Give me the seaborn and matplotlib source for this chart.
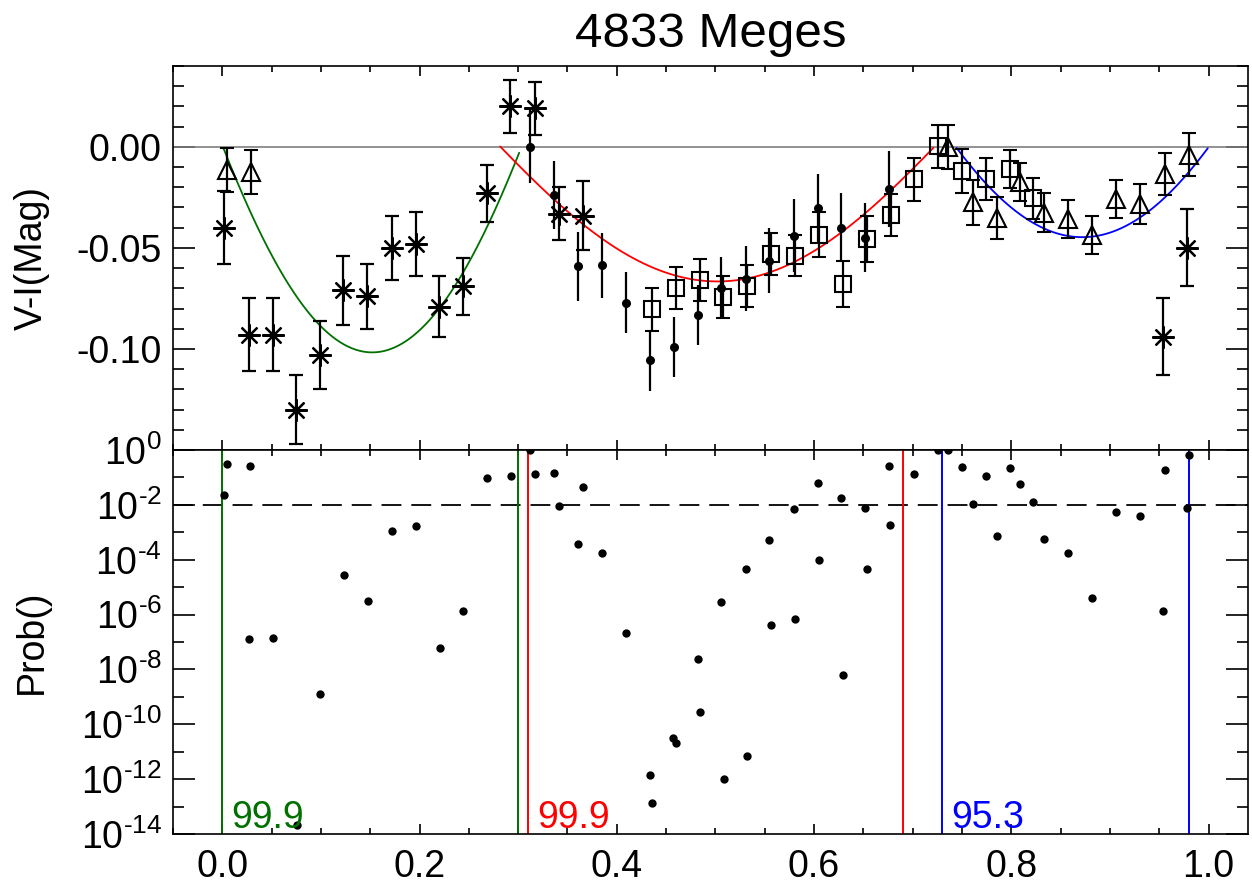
import numpy as np
import pandas as pd
import matplotlib
matplotlib.use("Agg")
import matplotlib.pyplot as plt
import matplotlib.transforms as mtransforms
from matplotlib.ticker import FixedLocator, FixedFormatter, MultipleLocator, NullFormatter
import seaborn as sns

# ---------------- data ----------------
title = "4833 Meges"
ylabel_top = "V-I(Mag)"
ylabel_bottom = "Prob()"

# asterisk series
star_phase = [0.002, 0.0266, 0.051, 0.0746, 0.099, 0.1227, 0.147, 0.1718, 0.1964,
              0.2201, 0.2438, 0.2682, 0.2919, 0.3166, 0.341, 0.3653, 0.9535, 0.9779]
star_vi = [-0.040, -0.093, -0.093, -0.130, -0.103, -0.071, -0.074, -0.050, -0.048,
           -0.079, -0.069, -0.023, 0.020, 0.019, -0.033, -0.034, -0.094, -0.050]
star_err = [0.018, 0.018, 0.018, 0.017, 0.017, 0.017, 0.016, 0.016, 0.016,
            0.015, 0.014, 0.014, 0.013, 0.013, 0.013, 0.017, 0.019, 0.019]

# open triangles
tri_phase = [0.0043, 0.0286, 0.7358, 0.7609, 0.785, 0.8089, 0.8333, 0.8574, 0.8814,
             0.9058, 0.9302, 0.9555, 0.9802]
tri_vi = [-0.0115, -0.0125, 0.000, -0.0275, -0.0352, -0.0175, -0.0325, -0.0355, -0.0435,
          -0.0259, -0.0283, -0.0135, -0.0038]
tri_err = [0.011, 0.011, 0.011, 0.011, 0.0105, 0.0095, 0.0095, 0.0094, 0.0095,
           0.0095, 0.0099, 0.0104, 0.0107]

# open squares
sq_phase = [0.4357, 0.4601, 0.4841, 0.5081, 0.5325, 0.5565, 0.5809, 0.6049, 0.6289,
            0.6533, 0.6777, 0.7013, 0.7257, 0.7497, 0.7741, 0.7985, 0.8225]
sq_vi = [-0.0803, -0.0699, -0.0658, -0.0744, -0.0688, -0.0528, -0.0538, -0.0434, -0.0678,
         -0.0457, -0.0337, -0.0161, 0.0003, -0.0120, -0.0159, -0.0110, -0.0255]
sq_err = [0.0107, 0.0104, 0.0103, 0.0104, 0.0102, 0.0104, 0.0100, 0.0113, 0.0115,
          0.0113, 0.0105, 0.0107, 0.0107, 0.0108, 0.0104, 0.0095, 0.0102]

# filled dots
dot_phase = [0.3122, 0.3362, 0.3602, 0.385, 0.4089, 0.4333, 0.4577, 0.482, 0.5058,
             0.5305, 0.5545, 0.5792, 0.6036, 0.6276, 0.652, 0.6764]
dot_vi = [0.000, -0.0238, -0.0592, -0.0587, -0.0771, -0.1056, -0.099, -0.0832, -0.0697,
          -0.0653, -0.0564, -0.0439, -0.0304, -0.040, -0.0449, -0.0209]
dot_err = [0.018, 0.017, 0.017, 0.016, 0.015, 0.015, 0.015, 0.015, 0.015,
           0.016, 0.016, 0.018, 0.017, 0.017, 0.017, 0.019]

# sinusoidal fits (period 1 in phase) for the three windows
fit_colors = ["#007000", "#ff0000", "#0000ff"]
fit_center = [0.152, 0.502, 0.872]
fit_minimum = [-0.1017, -0.0666, -0.0447]
fit_amplitude = [0.2426, 0.082, 0.1454]
fit_start = [0.001, 0.2817, 0.7447]
fit_end = [0.301, 0.721, 0.9992]

# window boundaries and significance labels
window_lo = [0.000, 0.310, 0.730]
window_hi = [0.300, 0.690, 0.980]
window_label = ["99.9", "99.9", "95.3"]

# probability panel
prob_phase = [0.0018, 0.0046, 0.0266, 0.0283, 0.051, 0.0753, 0.0993, 0.1234, 0.1477,
              0.1721, 0.1961, 0.2205, 0.2445, 0.2685, 0.2926, 0.3122, 0.3169, 0.3362,
              0.341, 0.3602, 0.3657, 0.385, 0.4089, 0.4333, 0.4357, 0.4574, 0.4601,
              0.482, 0.4841, 0.5061, 0.5084, 0.5305, 0.5325, 0.5545, 0.5565, 0.5792,
              0.5805, 0.6036, 0.6049, 0.6276, 0.6289, 0.652, 0.6533, 0.6764, 0.6774,
              0.7013, 0.7257, 0.7362, 0.7497, 0.7609, 0.7741, 0.785, 0.7985, 0.8089,
              0.8222, 0.8333, 0.8574, 0.8814, 0.9058, 0.9302, 0.9538, 0.9555, 0.9779,
              0.9805]
prob_value = [2.2e-2, 3.0e-1, 1.3e-7, 2.6e-1, 1.4e-7, 2.1e-14, 1.3e-9, 2.8e-5, 3.0e-6,
              1.1e-3, 1.7e-3, 6.2e-8, 1.3e-6, 9.3e-2, 1.1e-1, 1.0, 1.3e-1, 1.5e-1,
              9.3e-3, 3.9e-4, 4.4e-2, 1.8e-4, 2.2e-7, 1.4e-12, 1.3e-13, 3.2e-11, 2.1e-11,
              2.4e-8, 2.8e-10, 2.9e-6, 1.0e-12, 4.5e-5, 6.8e-12, 5.1e-4, 4.2e-7, 7.1e-3,
              6.9e-7, 6.5e-2, 1.0e-4, 1.8e-2, 6.5e-9, 7.9e-3, 4.7e-5, 2.6e-1, 1.8e-3,
              1.3e-1, 1.0, 1.0, 2.5e-1, 1.1e-2, 1.1e-1, 7.1e-4, 2.3e-1, 6.0e-2,
              1.3e-2, 5.8e-4, 1.7e-4, 4.0e-6, 5.6e-3, 3.8e-3, 1.3e-6, 1.9e-1, 7.4e-3,
              6.8e-1]
prob_threshold = 1e-2

# ticks
x_ticks = [0.0, 0.2, 0.4, 0.6, 0.8, 1.0]
x_ticklabels = ["0.0", "0.2", "0.4", "0.6", "0.8", "1.0"]
top_yticks = [-0.10, -0.05, 0.00]
top_yticklabels = ["-0.10", "-0.05", "0.00"]
prob_yticks = [1e0, 1e-2, 1e-4, 1e-6, 1e-8, 1e-10, 1e-12, 1e-14]
prob_yticklabels = [r"$10^{0}$", "$10^{\u20102}$", "$10^{\u20104}$", "$10^{\u20106}$",
                    "$10^{\u20108}$", "$10^{\u201010}$", "$10^{\u201012}$",
                    "$10^{\u201014}$"]
prob_yminor = [1e-1, 1e-3, 1e-5, 1e-7, 1e-9, 1e-11, 1e-13]

# ---------------- style ----------------
sns.set_theme(style="ticks")
plt.rcParams["font.family"] = ["Liberation Sans", "DejaVu Sans"]
plt.rcParams["axes.unicode_minus"] = False
plt.rcParams["mathtext.fontset"] = "custom"
plt.rcParams["mathtext.rm"] = "Liberation Sans"
plt.rcParams["mathtext.it"] = "Liberation Sans:italic"
plt.rcParams["mathtext.bf"] = "Liberation Sans:bold"
plt.rcParams["mathtext.default"] = "regular"
plt.rcParams["text.color"] = "black"
plt.rcParams["axes.labelcolor"] = "black"
plt.rcParams["xtick.color"] = "black"
plt.rcParams["ytick.color"] = "black"

FS = 27

fig = plt.figure(figsize=(12.52, 8.9), dpi=100)
ax1 = fig.add_axes([0.13818, 0.49438, 0.85863, 0.43146])
ax2 = fig.add_axes([0.13818, 0.06292, 0.85863, 0.43146])

# ---------------- top panel ----------------
ax1.axhline(0.0, color="#7f7f7f", lw=1.2, zorder=1)

for c, h, k, a, s, e in zip(fit_colors, fit_center, fit_minimum, fit_amplitude,
                            fit_start, fit_end):
    ph = np.linspace(s, e, 300)
    model = k + a * (1.0 - np.cos(2.0 * np.pi * (ph - h)))
    sns.lineplot(x=ph, y=model, ax=ax1, color=c, lw=1.3, sort=False,
                 estimator=None, zorder=2)

eb_kw = dict(ls="none", ecolor="black", elinewidth=1.6, capsize=4.7, capthick=1.6,
             mec="black", zorder=3)
ax1.errorbar(star_phase, star_vi, yerr=star_err, marker=(8, 2, 0), ms=16,
             mew=1.6, mfc="none", **eb_kw)
ax1.errorbar(tri_phase, tri_vi, yerr=tri_err, marker="^", ms=12.5,
             mew=1.5, mfc="none", **eb_kw)
ax1.errorbar(sq_phase, sq_vi, yerr=sq_err, marker="s", ms=11.5,
             mew=1.5, mfc="none", **eb_kw)
ax1.errorbar(dot_phase, dot_vi, yerr=dot_err, marker="o", ms=6.5,
             mew=0, mfc="black", **eb_kw)

ax1.set_xlim(-0.05, 1.04)
ax1.set_ylim(-0.15, 0.04)
ax1.yaxis.set_major_locator(FixedLocator(top_yticks))
ax1.yaxis.set_major_formatter(FixedFormatter(top_yticklabels))
ax1.yaxis.set_minor_locator(MultipleLocator(0.01))
ax1.set_ylabel(ylabel_top, fontsize=FS)
ax1.yaxis.set_label_coords(-0.1144, 0.5)
ax1.set_title(title, fontsize=35.5, pad=14, color="black")

# ---------------- bottom panel ----------------
ax2.set_yscale("log")
prob_df = pd.DataFrame({"phase": prob_phase, "prob": prob_value})
sns.scatterplot(data=prob_df, x="phase", y="prob", ax=ax2, color="black", s=36,
                linewidth=0, zorder=3)
ax2.axhline(prob_threshold, color="black", lw=1.3, dashes=(11, 5.5), zorder=2)

trans = mtransforms.blended_transform_factory(ax2.transData, ax2.transAxes)
for c, lo, hi, lab in zip(fit_colors, window_lo, window_hi, window_label):
    ax2.axvline(lo, color=c, lw=1.4, zorder=2)
    ax2.axvline(hi, color=c, lw=1.4, zorder=2)
    ax2.text(lo + 0.009, 0.0148, lab, color=c, fontsize=FS, ha="left",
             va="baseline", transform=trans, zorder=4)

ax2.set_xlim(-0.05, 1.04)
ax2.set_ylim(1e-14, 1.0)
ax2.yaxis.set_major_locator(FixedLocator(prob_yticks))
ax2.yaxis.set_major_formatter(FixedFormatter(prob_yticklabels))
ax2.yaxis.set_minor_locator(FixedLocator(prob_yminor))
ax2.yaxis.set_minor_formatter(NullFormatter())
ax2.set_xlabel("")
ax2.set_ylabel(ylabel_bottom, fontsize=FS)
ax2.yaxis.set_label_coords(-0.1144, 0.5)

# ---------------- shared axis styling ----------------
for ax in (ax1, ax2):
    ax.xaxis.set_major_locator(FixedLocator(x_ticks))
    ax.xaxis.set_major_formatter(FixedFormatter(x_ticklabels))
    ax.xaxis.set_minor_locator(MultipleLocator(0.05))
    ax.tick_params(which="both", direction="in", top=True, right=True,
                   bottom=True, left=True, colors="black", width=1.2,
                   labelsize=FS)
    ax.tick_params(axis="y", which="major", length=16, pad=8)
    ax.tick_params(axis="y", which="minor", length=8)
    ax.tick_params(axis="x", which="major", length=7, pad=11)
    ax.tick_params(axis="x", which="minor", length=4.5)
    for sp in ax.spines.values():
        sp.set_visible(True)
        sp.set_color("black")
        sp.set_linewidth(1.2)
    ax.set_facecolor("white")

ax1.tick_params(axis="x", labelbottom=False)
ax1.set_xlabel("")

fig.savefig("out.png", dpi=100, facecolor="white")
